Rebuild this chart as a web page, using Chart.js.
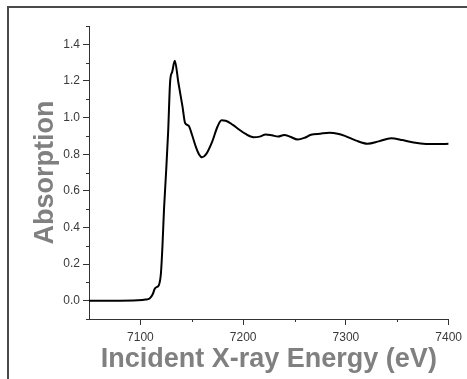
<!DOCTYPE html>
<html>
<head>
<meta charset="utf-8">
<script src="https://cdn.jsdelivr.net/npm/chart.js@4/dist/chart.umd.min.js"></script>
<style>
  html, body { margin: 0; padding: 0; background: #fff; }
  #wrap { position: relative; width: 467px; height: 379px; overflow: hidden; }
  #frame {
    position: absolute; left: 7px; top: 6px; width: 470px; height: 400px;
    border-top: 2px solid #4a4a4a; border-left: 2px solid #4a4a4a;
  }
  #wrap canvas { position: absolute; left: 0; top: 0; }
</style>
</head>
<body>
<div id="wrap">
  <div id="frame"></div>
  <canvas id="xas"></canvas>
</div>
<script>
// incident energy (eV) and normalised absorption
const energy = [
  7050, 7080, 7097, 7105, 7109, 7112, 7114, 7116, 7118, 7120,
  7121.5, 7123, 7125, 7127, 7129, 7131, 7133.5, 7137, 7141, 7143.5,
  7147, 7150, 7154, 7157, 7160, 7164, 7170, 7175, 7179, 7183,
  7190, 7196, 7202, 7210, 7216, 7222, 7228, 7234, 7240, 7246,
  7253, 7260, 7266, 7275, 7284, 7292, 7299, 7310, 7321, 7332,
  7344, 7355, 7366, 7378, 7390, 7400
]
const absorption = [
  0.0, 0.0, 0.002, 0.006, 0.012, 0.035, 0.065, 0.075, 0.085, 0.15,
  0.3, 0.5, 0.7, 0.92, 1.2, 1.25, 1.31, 1.19, 1.06, 0.97,
  0.955, 0.91, 0.84, 0.8, 0.783, 0.8, 0.87, 0.95, 0.985, 0.983,
  0.96, 0.935, 0.912, 0.893, 0.896, 0.908, 0.903, 0.896, 0.905, 0.895,
  0.88, 0.89, 0.906, 0.912, 0.917, 0.912, 0.9, 0.874, 0.857, 0.87,
  0.887, 0.877, 0.864, 0.856, 0.855, 0.857
]

const xTicks = [7100, 7200, 7300, 7400]
const xMinorTicks = [7150, 7250, 7350]
const yTicks = [0.0, 0.2, 0.4, 0.6, 0.8, 1.0, 1.2, 1.4]
const yMinorTicks = [-0.1, 0.1, 0.3, 0.5, 0.7, 0.9, 1.1, 1.3, 1.5]

const AXIS = "#333333"
const LABEL = "#3a3a3a"
const TITLE = "#808080"
const FONT = "'Liberation Sans', Arial, sans-serif"

const minorTicks = {
  id: "minorTicks",
  afterDraw(chart) {
    const {ctx, scales: {x, y}} = chart
    ctx.save()
    ctx.strokeStyle = AXIS
    ctx.lineWidth = 1
    ctx.beginPath()
    xMinorTicks.forEach(v => {
      const px = Math.round(x.getPixelForValue(v)) + 0.5
      ctx.moveTo(px, x.top)
      ctx.lineTo(px, x.top + 3)
    })
    yMinorTicks.forEach(v => {
      const py = Math.round(y.getPixelForValue(v)) + 0.5
      ctx.moveTo(y.right, py)
      ctx.lineTo(y.right - 3, py)
    })
    ctx.stroke()
    ctx.restore()
  }
}

const canvas = document.getElementById("xas")
canvas.width = 467
canvas.height = 379

new Chart(canvas, {
  type: "line",
  data: {
    datasets: [{
      data: energy.map((e, i) => ({x: e, y: absorption[i]})),
      borderColor: "#000",
      borderWidth: 2,
      pointRadius: 0,
      cubicInterpolationMode: "monotone",
      fill: false
    }]
  },
  options: {
    responsive: false,
    animation: false,
    devicePixelRatio: 1,
    layout: { padding: { top: 26, right: 14, bottom: 0, left: 0 } },
    plugins: { legend: { display: false }, tooltip: { enabled: false } },
    scales: {
      x: {
        type: "linear",
        min: 7050,
        max: 7400,
        afterBuildTicks: s => { s.ticks = xTicks.map(v => ({value: v})) },
        afterFit: s => { s.height = 60 },
        grid: { drawOnChartArea: false, drawTicks: true, tickLength: 6, color: AXIS },
        border: { display: true, color: AXIS, width: 1 },
        ticks: {
          color: LABEL,
          font: { family: FONT, size: 12 },
          padding: 5,
          maxRotation: 0,
          callback: v => String(v)
        },
        title: {
          display: true,
          text: "Incident X-ray Energy (eV)",
          color: TITLE,
          font: { family: FONT, size: 27, weight: "bold" },
          padding: { top: 0, bottom: 3 }
        }
      },
      y: {
        min: -0.1,
        max: 1.5,
        afterBuildTicks: s => { s.ticks = yTicks.map(v => ({value: v})) },
        afterFit: s => { s.width = 89 },
        grid: { drawOnChartArea: false, drawTicks: true, tickLength: 6, color: AXIS },
        border: { display: true, color: AXIS, width: 1 },
        ticks: {
          color: LABEL,
          font: { family: FONT, size: 12 },
          padding: 3,
          callback: v => v.toFixed(1)
        },
        title: {
          display: true,
          text: "Absorption",
          color: TITLE,
          font: { family: FONT, size: 27, weight: "bold" },
          padding: { top: 29, bottom: 0 }
        }
      }
    }
  },
  plugins: [minorTicks]
})
</script>
</body>
</html>
